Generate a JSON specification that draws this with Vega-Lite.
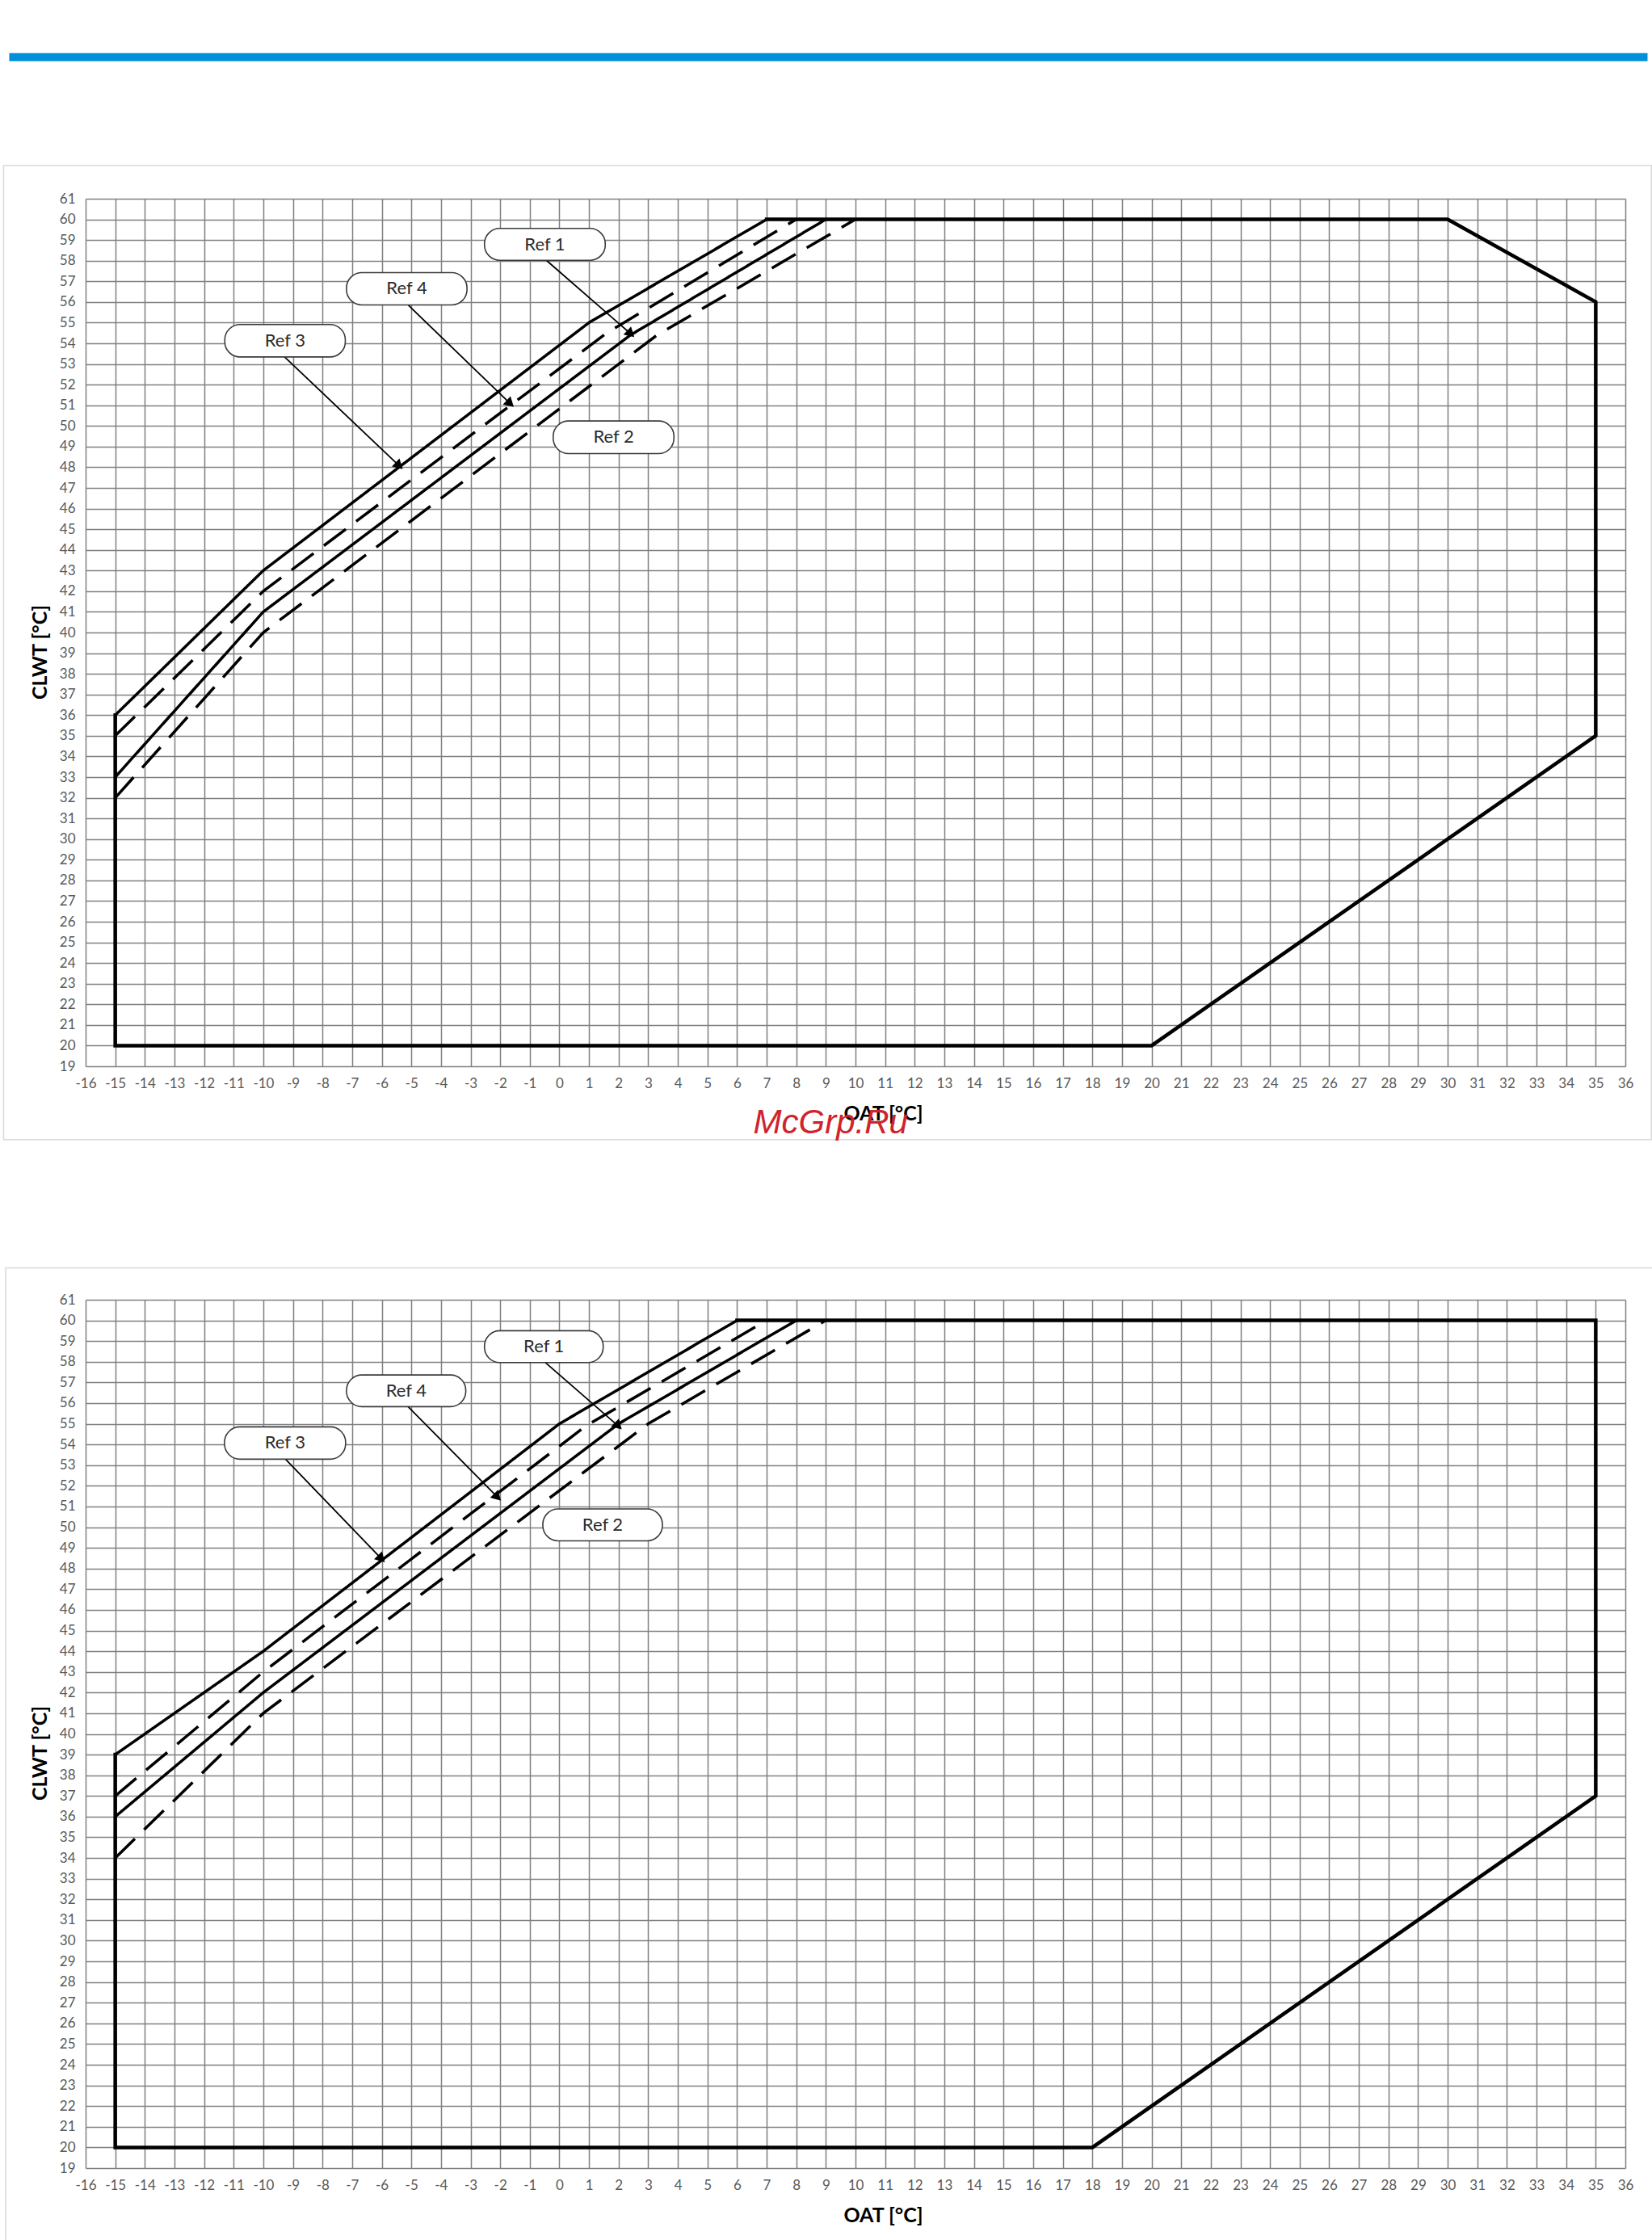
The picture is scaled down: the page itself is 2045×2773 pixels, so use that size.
{
  "$schema": "https://vega.github.io/schema/vega-lite/v6.json",
  "background": "white",
  "padding": {"left": 3, "top": 65, "right": 0, "bottom": 0},
  "spacing": 156,
  "datasets": {
    "lines": [
      {"chart": "A", "series": "Envelope", "i": 0, "oat": 7, "clwt": 60},
      {"chart": "A", "series": "Envelope", "i": 1, "oat": 30, "clwt": 60},
      {"chart": "A", "series": "Envelope", "i": 2, "oat": 35, "clwt": 56},
      {"chart": "A", "series": "Envelope", "i": 3, "oat": 35, "clwt": 35},
      {"chart": "A", "series": "Envelope", "i": 4, "oat": 20, "clwt": 20},
      {"chart": "A", "series": "Envelope", "i": 5, "oat": -15, "clwt": 20},
      {"chart": "A", "series": "Envelope", "i": 6, "oat": -15, "clwt": 36},
      {"chart": "A", "series": "Ref 3", "i": 0, "oat": -15, "clwt": 36},
      {"chart": "A", "series": "Ref 3", "i": 1, "oat": -10, "clwt": 43},
      {"chart": "A", "series": "Ref 3", "i": 2, "oat": 1, "clwt": 55},
      {"chart": "A", "series": "Ref 3", "i": 3, "oat": 7, "clwt": 60},
      {"chart": "A", "series": "Ref 4", "i": 0, "oat": -15, "clwt": 35},
      {"chart": "A", "series": "Ref 4", "i": 1, "oat": -10, "clwt": 42},
      {"chart": "A", "series": "Ref 4", "i": 2, "oat": 1.6, "clwt": 54.5},
      {"chart": "A", "series": "Ref 4", "i": 3, "oat": 8, "clwt": 60},
      {"chart": "A", "series": "Ref 1", "i": 0, "oat": -15, "clwt": 33},
      {"chart": "A", "series": "Ref 1", "i": 1, "oat": -10, "clwt": 41},
      {"chart": "A", "series": "Ref 1", "i": 2, "oat": 2.4, "clwt": 54.4},
      {"chart": "A", "series": "Ref 1", "i": 3, "oat": 9, "clwt": 60},
      {"chart": "A", "series": "Ref 2", "i": 0, "oat": -15, "clwt": 32},
      {"chart": "A", "series": "Ref 2", "i": 1, "oat": -10, "clwt": 40},
      {"chart": "A", "series": "Ref 2", "i": 2, "oat": 3.3, "clwt": 54.4},
      {"chart": "A", "series": "Ref 2", "i": 3, "oat": 10, "clwt": 60},
      {"chart": "B", "series": "Envelope", "i": 0, "oat": 6, "clwt": 60},
      {"chart": "B", "series": "Envelope", "i": 1, "oat": 35, "clwt": 60},
      {"chart": "B", "series": "Envelope", "i": 2, "oat": 35, "clwt": 37},
      {"chart": "B", "series": "Envelope", "i": 3, "oat": 18, "clwt": 20},
      {"chart": "B", "series": "Envelope", "i": 4, "oat": -15, "clwt": 20},
      {"chart": "B", "series": "Envelope", "i": 5, "oat": -15, "clwt": 39},
      {"chart": "B", "series": "Ref 3", "i": 0, "oat": -15, "clwt": 39},
      {"chart": "B", "series": "Ref 3", "i": 1, "oat": -10, "clwt": 44},
      {"chart": "B", "series": "Ref 3", "i": 2, "oat": 0, "clwt": 55},
      {"chart": "B", "series": "Ref 3", "i": 3, "oat": 6, "clwt": 60},
      {"chart": "B", "series": "Ref 4", "i": 0, "oat": -15, "clwt": 37},
      {"chart": "B", "series": "Ref 4", "i": 1, "oat": -10, "clwt": 43},
      {"chart": "B", "series": "Ref 4", "i": 2, "oat": 0.9, "clwt": 54.9},
      {"chart": "B", "series": "Ref 4", "i": 3, "oat": 7, "clwt": 60},
      {"chart": "B", "series": "Ref 1", "i": 0, "oat": -15, "clwt": 36},
      {"chart": "B", "series": "Ref 1", "i": 1, "oat": -10, "clwt": 42},
      {"chart": "B", "series": "Ref 1", "i": 2, "oat": 2, "clwt": 55},
      {"chart": "B", "series": "Ref 1", "i": 3, "oat": 8, "clwt": 60},
      {"chart": "B", "series": "Ref 2", "i": 0, "oat": -15, "clwt": 34},
      {"chart": "B", "series": "Ref 2", "i": 1, "oat": -10, "clwt": 41},
      {"chart": "B", "series": "Ref 2", "i": 2, "oat": 3, "clwt": 55},
      {"chart": "B", "series": "Ref 2", "i": 3, "oat": 9, "clwt": 60}
    ],
    "callouts": [
      {"chart": "A", "label": "Ref 1", "x0": -2.53, "x1": 1.55, "y0": 58.02, "y1": 59.56, "tx": -0.49, "ty": 58.79},
      {"chart": "A", "label": "Ref 4", "x0": -7.19, "x1": -3.12, "y0": 55.86, "y1": 57.42, "tx": -5.155, "ty": 56.64},
      {"chart": "A", "label": "Ref 3", "x0": -11.3, "x1": -7.23, "y0": 53.34, "y1": 54.91, "tx": -9.265, "ty": 54.125},
      {"chart": "A", "label": "Ref 2", "x0": -0.21, "x1": 3.87, "y0": 48.66, "y1": 50.24, "tx": 1.83, "ty": 49.45},
      {"chart": "B", "label": "Ref 1", "x0": -2.53, "x1": 1.48, "y0": 57.96, "y1": 59.5, "tx": -0.525, "ty": 58.73},
      {"chart": "B", "label": "Ref 4", "x0": -7.19, "x1": -3.16, "y0": 55.83, "y1": 57.36, "tx": -5.175, "ty": 56.6},
      {"chart": "B", "label": "Ref 3", "x0": -11.31, "x1": -7.22, "y0": 53.29, "y1": 54.85, "tx": -9.265, "ty": 54.07},
      {"chart": "B", "label": "Ref 2", "x0": -0.56, "x1": 3.48, "y0": 49.34, "y1": 50.88, "tx": 1.46, "ty": 50.11}
    ],
    "arrows": [
      {"chart": "A", "label": "Ref 1", "fx": -0.44, "fy": 58.02, "tx": 2.41, "ty": 54.46},
      {"chart": "A", "label": "Ref 4", "fx": -5.11, "fy": 55.86, "tx": -1.66, "ty": 51.08},
      {"chart": "A", "label": "Ref 3", "fx": -9.28, "fy": 53.34, "tx": -5.41, "ty": 48.07},
      {"chart": "B", "label": "Ref 1", "fx": -0.47, "fy": 57.96, "tx": 1.99, "ty": 54.89},
      {"chart": "B", "label": "Ref 4", "fx": -5.11, "fy": 55.83, "tx": -2.09, "ty": 51.45},
      {"chart": "B", "label": "Ref 3", "fx": -9.25, "fy": 53.29, "tx": -6.01, "ty": 48.47}
    ]
  },
  "vconcat": [
    {
      "width": 1906,
      "height": 1074,
      "layer": [
        {
          "data": {"name": "lines"},
          "transform": [{"filter": "datum.chart == 'A' && datum.series == 'Envelope'"}],
          "mark": {"type": "line", "color": "#000000", "strokeWidth": 4.5, "strokeJoin": "miter", "strokeCap": "square"},
          "encoding": {
            "x": {"field": "oat", "type": "quantitative", "scale": {"domain": [-16, 36], "nice": false, "zero": false}, "axis": {"title": "OAT [°C]"}},
            "y": {"field": "clwt", "type": "quantitative", "scale": {"domain": [19, 61], "nice": false, "zero": false}, "axis": {"title": "CLWT [°C]"}},
            "order": {"field": "i", "type": "quantitative"}
          }
        },
        {
          "data": {"values": [{}]},
          "mark": {"type": "rect", "filled": false, "stroke": "#d9d9d9", "strokeWidth": 1.5},
          "encoding": {
            "x": {"datum": -18.77, "type": "quantitative", "scale": {"domain": [-16, 36], "nice": false, "zero": false}, "axis": {"title": "OAT [°C]"}},
            "x2": {"datum": 36.88},
            "y": {"datum": 62.61, "type": "quantitative", "scale": {"domain": [19, 61], "nice": false, "zero": false}, "axis": {"title": "CLWT [°C]"}},
            "y2": {"datum": 15.45}
          }
        },
        {
          "data": {"values": [{}]},
          "mark": {"type": "rect", "fill": "#0091da"},
          "encoding": {
            "x": {"datum": -18.58, "type": "quantitative", "scale": {"domain": [-16, 36], "nice": false, "zero": false}, "axis": {"title": "OAT [°C]"}},
            "x2": {"datum": 36.75},
            "y": {"datum": 68.05, "type": "quantitative", "scale": {"domain": [19, 61], "nice": false, "zero": false}, "axis": {"title": "CLWT [°C]"}},
            "y2": {"datum": 67.66}
          }
        },
        {
          "data": {"name": "lines"},
          "transform": [{"filter": "datum.chart == 'A' && datum.series != 'Envelope'"}],
          "mark": {"type": "line", "color": "#000000", "strokeWidth": 3.5, "strokeJoin": "miter", "strokeCap": "butt"},
          "encoding": {
            "x": {"field": "oat", "type": "quantitative", "scale": {"domain": [-16, 36], "nice": false, "zero": false}, "axis": {"title": "OAT [°C]"}},
            "y": {"field": "clwt", "type": "quantitative", "scale": {"domain": [19, 61], "nice": false, "zero": false}, "axis": {"title": "CLWT [°C]"}},
            "order": {"field": "i", "type": "quantitative"},
            "strokeDash": {"field": "series", "type": "nominal", "legend": null,
                           "scale": {"domain": ["Ref 1", "Ref 2", "Ref 3", "Ref 4"], "range": [[1, 0], [34, 16], [1, 0], [34, 16]]}}
          }
        },
        {
          "data": {"name": "arrows"},
          "transform": [{"filter": "datum.chart == 'A'"}],
          "mark": {"type": "rule", "color": "#000000", "strokeWidth": 1.8},
          "encoding": {
            "x": {"field": "fx", "type": "quantitative", "scale": {"domain": [-16, 36], "nice": false, "zero": false}, "axis": {"title": "OAT [°C]"}},
            "y": {"field": "fy", "type": "quantitative", "scale": {"domain": [19, 61], "nice": false, "zero": false}, "axis": {"title": "CLWT [°C]"}},
            "x2": {"field": "tx"},
            "y2": {"field": "ty"}
          }
        },
        {
          "data": {"name": "arrows"},
          "transform": [{"filter": "datum.chart == 'A'"}],
          "mark": {"type": "point", "shape": "triangle-up", "filled": true, "color": "#000000", "size": 190, "angle": 133, "opacity": 1},
          "encoding": {
            "x": {"field": "tx", "type": "quantitative", "scale": {"domain": [-16, 36], "nice": false, "zero": false}, "axis": {"title": "OAT [°C]"}},
            "y": {"field": "ty", "type": "quantitative", "scale": {"domain": [19, 61], "nice": false, "zero": false}, "axis": {"title": "CLWT [°C]"}}
          }
        },
        {
          "data": {"name": "callouts"},
          "transform": [{"filter": "datum.chart == 'A'"}],
          "mark": {"type": "rect", "fill": "#ffffff", "stroke": "#3a3a3a", "strokeWidth": 1.6, "cornerRadius": 19},
          "encoding": {
            "x": {"field": "x0", "type": "quantitative", "scale": {"domain": [-16, 36], "nice": false, "zero": false}, "axis": {"title": "OAT [°C]"}},
            "x2": {"field": "x1"},
            "y": {"field": "y0", "type": "quantitative", "scale": {"domain": [19, 61], "nice": false, "zero": false}, "axis": {"title": "CLWT [°C]"}},
            "y2": {"field": "y1"}
          }
        },
        {
          "data": {"name": "callouts"},
          "transform": [{"filter": "datum.chart == 'A'"}],
          "mark": {"type": "text", "font": "Lato", "fontSize": 22, "color": "#2b2b2b", "align": "center", "baseline": "middle"},
          "encoding": {
            "x": {"field": "tx", "type": "quantitative", "scale": {"domain": [-16, 36], "nice": false, "zero": false}, "axis": {"title": "OAT [°C]"}},
            "y": {"field": "ty", "type": "quantitative", "scale": {"domain": [19, 61], "nice": false, "zero": false}, "axis": {"title": "CLWT [°C]"}},
            "text": {"field": "label"}
          }
        },
        {
          "data": {"values": [{"mark": "McGrp.Ru"}]},
          "mark": {"type": "text", "font": "Liberation Sans", "fontStyle": "italic", "fontSize": 42, "color": "#d0232b", "align": "center", "baseline": "middle"},
          "encoding": {
            "x": {"datum": 9.16, "type": "quantitative", "scale": {"domain": [-16, 36], "nice": false, "zero": false}, "axis": {"title": "OAT [°C]"}},
            "y": {"datum": 16.27, "type": "quantitative", "scale": {"domain": [19, 61], "nice": false, "zero": false}, "axis": {"title": "CLWT [°C]"}},
            "text": {"field": "mark"}
          }
        }
      ]
    },
    {
      "width": 1906,
      "height": 1075,
      "layer": [
        {
          "data": {"name": "lines"},
          "transform": [{"filter": "datum.chart == 'B' && datum.series == 'Envelope'"}],
          "mark": {"type": "line", "color": "#000000", "strokeWidth": 4.5, "strokeJoin": "miter", "strokeCap": "square"},
          "encoding": {
            "x": {"field": "oat", "type": "quantitative", "scale": {"domain": [-16, 36], "nice": false, "zero": false}, "axis": {"title": "OAT [°C]"}},
            "y": {"field": "clwt", "type": "quantitative", "scale": {"domain": [19, 61], "nice": false, "zero": false}, "axis": {"title": "CLWT [°C]"}},
            "order": {"field": "i", "type": "quantitative"}
          }
        },
        {
          "data": {"values": [{}]},
          "mark": {"type": "rect", "filled": false, "stroke": "#d9d9d9", "strokeWidth": 1.5},
          "encoding": {
            "x": {"datum": -18.7, "type": "quantitative", "scale": {"domain": [-16, 36], "nice": false, "zero": false}, "axis": {"title": "OAT [°C]"}},
            "x2": {"datum": 36.95},
            "y": {"datum": 62.54, "type": "quantitative", "scale": {"domain": [19, 61], "nice": false, "zero": false}, "axis": {"title": "CLWT [°C]"}},
            "y2": {"datum": 15.43}
          }
        },
        {
          "data": {"name": "lines"},
          "transform": [{"filter": "datum.chart == 'B' && datum.series != 'Envelope'"}],
          "mark": {"type": "line", "color": "#000000", "strokeWidth": 3.5, "strokeJoin": "miter", "strokeCap": "butt"},
          "encoding": {
            "x": {"field": "oat", "type": "quantitative", "scale": {"domain": [-16, 36], "nice": false, "zero": false}, "axis": {"title": "OAT [°C]"}},
            "y": {"field": "clwt", "type": "quantitative", "scale": {"domain": [19, 61], "nice": false, "zero": false}, "axis": {"title": "CLWT [°C]"}},
            "order": {"field": "i", "type": "quantitative"},
            "strokeDash": {"field": "series", "type": "nominal", "legend": null,
                           "scale": {"domain": ["Ref 1", "Ref 2", "Ref 3", "Ref 4"], "range": [[1, 0], [34, 16], [1, 0], [34, 16]]}}
          }
        },
        {
          "data": {"name": "arrows"},
          "transform": [{"filter": "datum.chart == 'B'"}],
          "mark": {"type": "rule", "color": "#000000", "strokeWidth": 1.8},
          "encoding": {
            "x": {"field": "fx", "type": "quantitative", "scale": {"domain": [-16, 36], "nice": false, "zero": false}, "axis": {"title": "OAT [°C]"}},
            "y": {"field": "fy", "type": "quantitative", "scale": {"domain": [19, 61], "nice": false, "zero": false}, "axis": {"title": "CLWT [°C]"}},
            "x2": {"field": "tx"},
            "y2": {"field": "ty"}
          }
        },
        {
          "data": {"name": "arrows"},
          "transform": [{"filter": "datum.chart == 'B'"}],
          "mark": {"type": "point", "shape": "triangle-up", "filled": true, "color": "#000000", "size": 190, "angle": 135, "opacity": 1},
          "encoding": {
            "x": {"field": "tx", "type": "quantitative", "scale": {"domain": [-16, 36], "nice": false, "zero": false}, "axis": {"title": "OAT [°C]"}},
            "y": {"field": "ty", "type": "quantitative", "scale": {"domain": [19, 61], "nice": false, "zero": false}, "axis": {"title": "CLWT [°C]"}}
          }
        },
        {
          "data": {"name": "callouts"},
          "transform": [{"filter": "datum.chart == 'B'"}],
          "mark": {"type": "rect", "fill": "#ffffff", "stroke": "#3a3a3a", "strokeWidth": 1.6, "cornerRadius": 19},
          "encoding": {
            "x": {"field": "x0", "type": "quantitative", "scale": {"domain": [-16, 36], "nice": false, "zero": false}, "axis": {"title": "OAT [°C]"}},
            "x2": {"field": "x1"},
            "y": {"field": "y0", "type": "quantitative", "scale": {"domain": [19, 61], "nice": false, "zero": false}, "axis": {"title": "CLWT [°C]"}},
            "y2": {"field": "y1"}
          }
        },
        {
          "data": {"name": "callouts"},
          "transform": [{"filter": "datum.chart == 'B'"}],
          "mark": {"type": "text", "font": "Lato", "fontSize": 22, "color": "#2b2b2b", "align": "center", "baseline": "middle"},
          "encoding": {
            "x": {"field": "tx", "type": "quantitative", "scale": {"domain": [-16, 36], "nice": false, "zero": false}, "axis": {"title": "OAT [°C]"}},
            "y": {"field": "ty", "type": "quantitative", "scale": {"domain": [19, 61], "nice": false, "zero": false}, "axis": {"title": "CLWT [°C]"}},
            "text": {"field": "label"}
          }
        }
      ]
    }
  ],
  "config": {
    "locale": {"number": {"decimal": ".", "thousands": ",", "grouping": [3], "currency": ["$", ""], "minus": "-"}},
    "view": {"stroke": null},
    "font": "Lato",
    "axis": {
      "grid": true,
      "gridColor": "#808080",
      "gridWidth": 1.5,
      "domain": false,
      "ticks": false,
      "labelOverlap": false,
      "labelColor": "#595959",
      "labelFont": "Lato",
      "labelFontSize": 17,
      "labelPadding": 13,
      "titleFont": "Lato",
      "titleFontSize": 25,
      "titleFontWeight": "bold",
      "titleColor": "#000000"
    },
    "axisX": {
      "tickCount": 52,
      "labelFlush": false,
      "titleX": 987,
      "titleY": 58,
      "titleBaseline": "middle",
      "titleAlign": "center"
    },
    "axisY": {
      "tickCount": 42,
      "titleX": -57,
      "titleY": 561,
      "titleBaseline": "middle",
      "titleAlign": "center",
      "titleAngle": -90
    }
  }
}
